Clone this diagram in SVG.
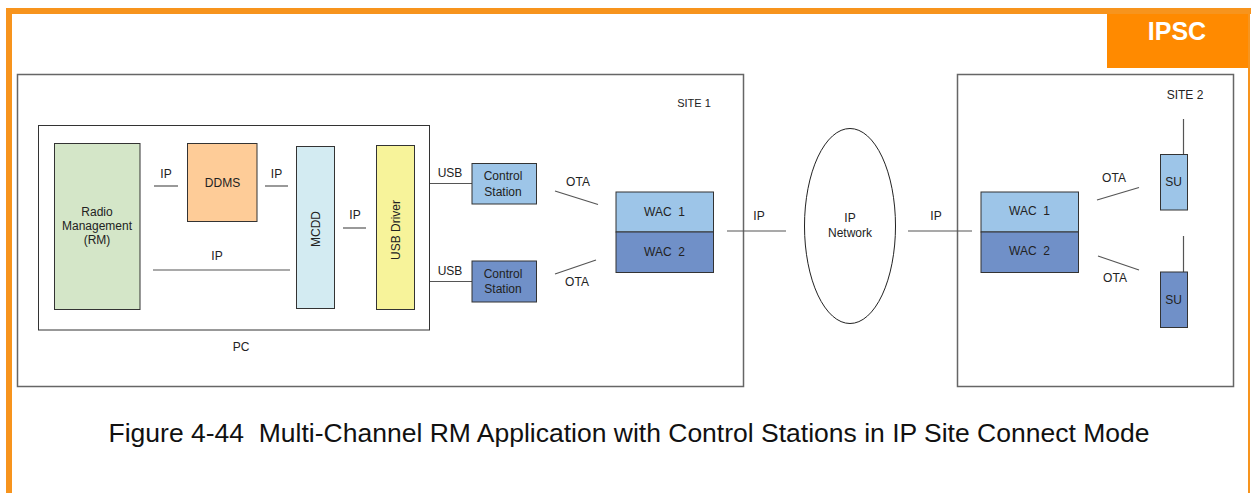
<svg xmlns="http://www.w3.org/2000/svg" width="1251" height="493" viewBox="0 0 1251 493">
<style>
text{font-family:"Liberation Sans",Arial,sans-serif;fill:#222;font-size:12px;text-anchor:middle}
.site{fill:none;stroke:#666;stroke-width:1.5}
.box{stroke:#333;stroke-width:1}
.ln{stroke:#555;stroke-width:1.2;fill:none}
.lb{fill:#9DC5E8}
.db{fill:#7090C8}
</style>
<rect width="1251" height="493" fill="#fff"/>
<g id="frame">
<rect x="6" y="8" width="1245" height="6" fill="#F7941D"/>
<rect x="6" y="8" width="6" height="485" fill="#F7941D"/>
<rect x="1248" y="14" width="2" height="479" fill="#F7941D"/>
<rect x="1107" y="14" width="141" height="54" fill="#FF8A00"/>
<text x="1177" y="40" style="font-size:25px;font-weight:bold;fill:#fff">IPSC</text>
</g>
<g id="site1">
<rect class="site" x="17.5" y="74.5" width="726" height="312"/>
<text x="694" y="106.5" style="font-size:11px">SITE 1</text>
</g>
<g id="site2">
<rect class="site" x="957.5" y="74.5" width="276" height="312"/>
<text x="1185" y="99">SITE 2</text>
</g>
<g id="pc">
<rect x="38.5" y="125.5" width="391" height="204.5" fill="none" stroke="#333" stroke-width="1"/>
<text x="241" y="351">PC</text>
</g>
<g id="connectors">
<line class="ln" x1="154" y1="186" x2="178" y2="186"/>
<line class="ln" x1="265" y1="186" x2="288" y2="186"/>
<line class="ln" x1="343" y1="228" x2="366" y2="228"/>
<line class="ln" x1="153" y1="270" x2="290" y2="270"/>
<line class="ln" x1="430" y1="183.5" x2="472" y2="183.5"/>
<line class="ln" x1="430" y1="281.5" x2="472" y2="281.5"/>
<line class="ln" x1="555" y1="191" x2="598" y2="204.5"/>
<line class="ln" x1="555" y1="274" x2="596" y2="260"/>
<line class="ln" x1="727" y1="231" x2="786" y2="231"/>
<line class="ln" x1="908" y1="231" x2="972" y2="231"/>
<line class="ln" x1="1097" y1="200" x2="1139" y2="187.5"/>
<line class="ln" x1="1098" y1="256" x2="1139" y2="270"/>
<line class="ln" x1="1183.5" y1="119" x2="1183.5" y2="154"/>
<line class="ln" x1="1183.5" y1="236" x2="1183.5" y2="272"/>
<text x="166" y="177.5">IP</text>
<text x="276.5" y="177.5">IP</text>
<text x="355" y="218.5">IP</text>
<text x="217" y="260">IP</text>
<text x="450" y="177">USB</text>
<text x="450" y="275">USB</text>
<text x="578" y="186">OTA</text>
<text x="577" y="285.5">OTA</text>
<text x="759" y="220">IP</text>
<text x="936" y="220">IP</text>
<text x="1114" y="182">OTA</text>
<text x="1115" y="281.5">OTA</text>
</g>
<g id="rm">
<rect class="box" x="54.5" y="143.5" width="85.5" height="166" fill="#D4E6C8"/>
<text x="97" y="216">Radio</text>
<text x="97" y="230">Management</text>
<text x="97" y="244">(RM)</text>
</g>
<g id="ddms">
<rect class="box" x="187.5" y="143.5" width="69.5" height="78" fill="#FECC98"/>
<text x="222.5" y="187">DDMS</text>
</g>
<g id="mcdd">
<rect class="box" x="296.5" y="146.5" width="38" height="162" fill="#D3EBF2"/>
<text transform="translate(320,229) rotate(-90)">MCDD</text>
</g>
<g id="usbdriver">
<rect class="box" x="376.5" y="145.5" width="38" height="164" fill="#F7F39A"/>
<text transform="translate(399.5,230) rotate(-90)">USB Driver</text>
</g>
<g id="cs1">
<rect class="box lb" x="472" y="163.5" width="64.5" height="40.5"/>
<text x="503" y="180">Control</text>
<text x="503" y="195.5">Station</text>
</g>
<g id="cs2">
<rect class="box db" x="472" y="261" width="64.5" height="41"/>
<text x="503" y="278">Control</text>
<text x="503" y="292.5">Station</text>
</g>
<g id="wac-site1">
<rect class="box lb" x="616" y="192" width="97.5" height="40"/>
<rect class="box db" x="616" y="232" width="97.5" height="40.5"/>
<text x="664.5" y="215.5" xml:space="preserve">WAC  1</text>
<text x="664.5" y="255.5" xml:space="preserve">WAC  2</text>
</g>
<g id="ipnetwork">
<ellipse cx="850" cy="226" rx="45.5" ry="97.5" fill="none" stroke="#222" stroke-width="1"/>
<text x="850" y="222">IP</text>
<text x="850" y="237">Network</text>
</g>
<g id="wac-site2">
<rect class="box lb" x="981" y="192" width="97.5" height="40"/>
<rect class="box db" x="981" y="232" width="97.5" height="40.5"/>
<text x="1029.5" y="215" xml:space="preserve">WAC  1</text>
<text x="1029.5" y="255" xml:space="preserve">WAC  2</text>
</g>
<g id="su1">
<rect class="box lb" x="1160.5" y="154.5" width="27" height="55.5"/>
<text x="1173.5" y="186">SU</text>
</g>
<g id="su2">
<rect class="box db" x="1160.5" y="272" width="27" height="55.5"/>
<text x="1173.5" y="304">SU</text>
</g>
<text x="629" y="441.5" xml:space="preserve" style="font-size:26.5px;fill:#111">Figure 4-44  Multi-Channel RM Application with Control Stations in IP Site Connect Mode</text>
</svg>
